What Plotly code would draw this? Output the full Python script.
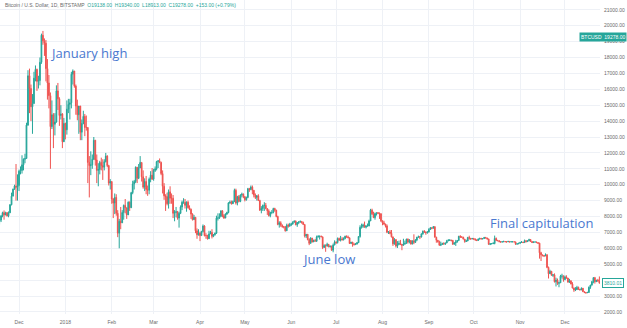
import plotly.graph_objects as go
import pandas as pd

start_date = "2017-11-18"

closes = [
    # Nov 2017 (18-30)
    7780, 8030, 8240, 8100, 8240, 8040, 8230, 8740, 9280, 9720, 9910, 9840, 9950,
    # Dec 2017
    10850, 10900, 11250, 11600, 11650, 13750, 16850, 16050, 14900, 15100, 16700, 17250, 16500, 16550, 17700, 19400,
    19050, 18900, 17300, 16400, 15600, 13650, 14400, 13800, 13950, 15900, 15400, 14350, 14450, 12700, 13850,
    # Jan 2018
    13450, 14750, 15050, 15150, 16950, 17150, 16200, 14950, 14400, 14950, 13300, 13850, 14300, 13600, 13600, 11400,
    11200, 11250, 11600, 12800, 11550, 10900, 10950, 11400, 11200, 11100, 11450, 11800, 11200, 10100, 10200,
    # Feb 2018
    9100, 8850, 9200, 8200, 6950, 7700, 7600, 8250, 8700, 8550, 8100, 8900, 8550, 9500, 10050, 10200,
    11100, 10400, 11050, 11400, 10500, 9850, 10200, 9700, 9650, 10350, 10600, 10350,
    # Mar 2018
    10900, 11000, 11450, 11500, 11400, 10700, 9900, 9300, 9250, 8800, 9550, 9150, 9150, 8200, 8250, 8300,
    7900, 8200, 8600, 8900, 8900, 8700, 8900, 8550, 8450, 8150, 7800, 7950, 7100, 6850, 6950,
    # Apr 2018
    6800, 7050, 7400, 6800, 6800, 6600, 6900, 7000, 6750, 6850, 6950, 7900, 7900, 8000, 8350,
    8050, 7900, 8150, 8250, 8850, 8900, 8800, 8950, 9650, 8850, 9250, 8950, 9350, 9400, 9250,
    # May 2018
    9050, 9200, 9750, 9700, 9850, 9650, 9350, 9200, 9300, 9000, 8400, 8500, 8700, 8700, 8500, 8350,
    8050, 8250, 8250, 8500, 8400, 8000, 7500, 7600, 7450, 7350, 7350, 7100, 7450, 7400, 7500,
    # Jun 2018
    7520, 7640, 7710, 7480, 7620, 7660, 7690, 7620, 7500, 6770, 6880, 6550, 6310, 6640, 6400,
    6490, 6450, 6710, 6740, 6760, 6720, 6050, 6170, 6150, 6250, 6090, 6130, 5880, 6200, 6390,
    # Jul 2018
    6360, 6620, 6510, 6590, 6530, 6610, 6760, 6710, 6660, 6300, 6390, 6250, 6230, 6270, 6350, 6740,
    7320, 7380, 7470, 7330, 7400, 7400, 7720, 8400, 8170, 7930, 8180, 8230, 8210, 8170, 7730,
    # Aug 2018
    7600, 7530, 7410, 7010, 7030, 6940, 6720, 6280, 6540, 6150, 6240, 6310, 6250, 6190, 6270, 6310,
    6580, 6390, 6490, 6270, 6470, 6370, 6520, 6700, 6730, 6710, 6910, 7070, 7030, 6980, 7020,
    # Sep 2018
    7190, 7280, 7260, 7360, 6700, 6510, 6410, 6190, 6240, 6300, 6280, 6330, 6480, 6490, 6520,
    6490, 6250, 6340, 6390, 6490, 6760, 6710, 6700, 6580, 6430, 6460, 6680, 6630, 6600, 6620,
    # Oct 2018
    6590, 6530, 6490, 6580, 6630, 6590, 6610, 6690, 6650, 6590, 6250, 6280, 6290, 6300, 6620, 6500,
    6480, 6420, 6390, 6410, 6420, 6410, 6400, 6430, 6400, 6410, 6410, 6400, 6260, 6280, 6310,
    # Nov 2018
    6370, 6390, 6360, 6480, 6420, 6470, 6550, 6430, 6360, 6400, 6400, 6360, 6320, 5720, 5590,
    5540, 5520, 5600, 4800, 4400, 4550, 4300, 4330, 3900, 4000, 3800, 3830, 4250, 4250, 4030,
    # Dec 2018 (1-24)
    4200, 4130, 3870, 3960, 3750, 3500, 3380, 3400, 3540, 3420, 3380, 3490, 3270, 3220, 3200, 3220,
    3550, 3690, 3900, 4150, 3900, 4000, 3950, 3810.01,
]

highs = [
    7850, 8100, 8300, 8380, 8300, 8280, 8320, 8780, 9500, 9750, 10000, 11300, 10650,
    10950, 11150, 11850, 11650, 11950, 13900, 17200, 17300, 16300, 15700, 17100, 17500, 17300, 16850, 18000, 19500,
    19670, 19200, 19100, 17900, 16900, 15800, 15300, 14500, 14500, 16250, 16400, 15500, 15000, 14500, 14200,
    13900, 15300, 15400, 15400, 17100, 17250, 17150, 16300, 15350, 14950, 14950, 14100, 14650, 14450, 14350, 13600,
    11800, 12100, 11900, 13000, 12800, 11900, 11350, 11500, 11700, 11600, 11600, 12000, 11850, 11250, 10350,
    10200, 9150, 9450, 9400, 8400, 7850, 8600, 8400, 8750, 9100, 8550, 8950, 8950, 9550, 10250, 10300,
    11150, 11100, 11300, 11800, 11250, 10900, 10400, 10550, 9950, 10450, 10850, 11050,
    11000, 11150, 11500, 11550, 11650, 11450, 10900, 10100, 9400, 9500, 9700, 9900, 9450, 9350, 8400, 8600,
    8350, 8300, 8700, 9000, 9150, 9100, 8950, 9000, 8700, 8500, 8200, 8100, 7950, 7250, 7200,
    7050, 7100, 7500, 7450, 6950, 6850, 7100, 7100, 7200, 6900, 6990, 8050, 8200, 8200, 8400,
    8400, 8150, 8200, 8300, 8900, 9000, 9000, 9000, 9750, 9750, 9300, 9350, 9400, 9500, 9450,
    9250, 9250, 9800, 9800, 9950, 9950, 9650, 9450, 9350, 9400, 9050, 8650, 8750, 8900, 8850, 8500,
    8450, 8300, 8400, 8550, 8550, 8420, 8050, 7700, 7700, 7500, 7400, 7400, 7550, 7550, 7600,
    7600, 7700, 7750, 7750, 7650, 7700, 7750, 7700, 7680, 7480, 6900, 6900, 6630, 6700, 6650,
    6550, 6590, 6800, 6830, 6800, 6800, 6730, 6250, 6250, 6350, 6270, 6180, 6170, 6300, 6500,
    6440, 6680, 6670, 6780, 6700, 6690, 6790, 6810, 6800, 6680, 6400, 6400, 6340, 6320, 6400, 6750,
    7450, 7550, 7550, 7680, 7450, 7560, 7800, 8480, 8490, 8300, 8250, 8230, 8280, 8250, 8200,
    7750, 7730, 7540, 7500, 7080, 7150, 7150, 6720, 6640, 6580, 6450, 6480, 6530, 6270, 6600, 6480,
    6600, 6620, 6580, 6520, 6490, 6880, 6580, 6720, 6800, 6760, 6930, 7120, 7140, 7050, 7080,
    7260, 7340, 7330, 7400, 7380, 6720, 6520, 6480, 6420, 6350, 6380, 6350, 6530, 6580, 6570,
    6530, 6530, 6380, 6530, 6520, 6780, 6820, 6760, 6720, 6580, 6540, 6720, 6790, 6640, 6650,
    6650, 6610, 6540, 6620, 6650, 6640, 6630, 6700, 6700, 6660, 6600, 6330, 6320, 6390, 6800, 6680,
    6530, 6500, 6460, 6440, 6480, 6460, 6440, 6470, 6450, 6450, 6430, 6430, 6420, 6320, 6350,
    6400, 6460, 6400, 6550, 6500, 6480, 6600, 6560, 6440, 6420, 6420, 6420, 6360, 6350, 5780,
    5600, 5580, 5680, 5610, 4850, 4650, 4580, 4380, 4420, 4150, 4100, 3900, 4330, 4400, 4300,
    4290, 4300, 4130, 4080, 3970, 3870, 3530, 3560, 3640, 3590, 3440, 3540, 3500, 3290, 3250, 3270,
    3600, 3700, 3950, 4190, 4200, 4010, 4080, 4230,
]

lows = [
    7500, 7650, 7950, 7800, 8080, 8000, 7950, 8230, 8700, 9300, 9680, 9000, 9000,
    9600, 10650, 10700, 10900, 11350, 11650, 13700, 14500, 14000, 13200, 15100, 16500, 15900, 16050, 16250, 17600,
    18800, 18100, 16500, 15350, 14800, 11000, 13500, 12300, 13100, 13900, 14700, 13700, 14100, 12300, 12800,
    12850, 13150, 14500, 14100, 14800, 16300, 16100, 14400, 14050, 13200, 12800, 12800, 13800, 13050, 13400, 10100,
    9200, 10600, 11000, 11550, 11200, 10100, 9900, 10650, 10900, 10300, 10900, 11400, 11100, 9950, 9700,
    8800, 7900, 8150, 8050, 6700, 6000, 7200, 7600, 7800, 8200, 7850, 8100, 8350, 8550, 9400, 9700,
    10100, 10100, 10350, 11050, 10200, 9750, 9600, 9400, 9300, 9400, 10150, 10300,
    10250, 10800, 10900, 11050, 11350, 10600, 9450, 9050, 8350, 8700, 8500, 8800, 8800, 7900, 7700, 7950,
    7800, 7300, 8150, 8400, 8800, 8500, 8300, 8500, 8400, 7850, 7750, 7800, 6950, 6600, 6800,
    6450, 6800, 7000, 6750, 6600, 6550, 6600, 6900, 6620, 6700, 6800, 6900, 7750, 7850, 8000,
    7950, 7850, 7900, 8100, 8200, 8800, 8750, 8800, 8900, 8750, 8700, 8900, 8900, 9200, 9150,
    8950, 9000, 9150, 9550, 9650, 9400, 9200, 9100, 9000, 9000, 8350, 8200, 8350, 8350, 8450, 8100,
    8000, 7950, 8150, 8200, 8300, 7950, 7450, 7300, 7350, 7300, 7250, 7050, 7100, 7300, 7350,
    7400, 7500, 7620, 7450, 7350, 7520, 7600, 7550, 7470, 6680, 6650, 6500, 6200, 6300, 6370,
    6400, 6440, 6400, 6680, 6550, 6700, 5950, 6040, 5780, 6100, 6070, 6050, 5850, 5750, 6200,
    6270, 6300, 6470, 6430, 6500, 6500, 6570, 6680, 6640, 6290, 6290, 6100, 6180, 6220, 6240, 6350,
    6670, 7240, 7280, 7300, 7250, 7390, 7390, 7720, 8100, 7900, 7800, 8060, 8140, 7850, 7650,
    7450, 7480, 7310, 6950, 6900, 6880, 6680, 6150, 6230, 6050, 6020, 6200, 6200, 5880, 6170, 6220,
    6290, 6300, 6310, 6230, 6250, 6260, 6350, 6450, 6670, 6580, 6680, 6850, 6970, 6850, 6920,
    7000, 7150, 7200, 7250, 6680, 6350, 6360, 6170, 6140, 6230, 6220, 6210, 6330, 6440, 6480,
    6430, 6230, 6250, 6150, 6370, 6480, 6650, 6680, 6560, 6350, 6400, 6450, 6540, 6530, 6560,
    6530, 6480, 6450, 6480, 6550, 6560, 6560, 6590, 6620, 6550, 6220, 6200, 6260, 6270, 6250, 6450,
    6440, 6380, 6370, 6380, 6400, 6390, 6370, 6400, 6380, 6390, 6390, 6380, 6210, 6250, 6260,
    6300, 6360, 6330, 6350, 6370, 6400, 6450, 6410, 6340, 6360, 6370, 6330, 6280, 5350, 5200,
    5500, 5450, 5510, 4750, 4100, 4400, 4280, 4200, 3850, 3600, 3700, 3550, 3830, 4100, 3900,
    3990, 4100, 3850, 3820, 3740, 3480, 3260, 3310, 3380, 3380, 3360, 3370, 3260, 3180, 3150, 3190,
    3210, 3450, 3650, 3800, 3780, 3880, 3900, 3780,
]

first_open = 7700

price_ticks = list(range(2000, 22000, 1000))
price_labels = [f"{v}.00" for v in price_ticks]
month_ticks = ["2017-12-01", "2018-01-01", "2018-02-01", "2018-03-01", "2018-04-01", "2018-05-01",
               "2018-06-01", "2018-07-01", "2018-08-01", "2018-09-01", "2018-10-01", "2018-11-01", "2018-12-01"]
month_labels = ["Dec", "2018", "Feb", "Mar", "Apr", "May", "Jun", "Jul", "Aug", "Sep", "Oct", "Nov", "Dec"]

header_title = "Bitcoin / U.S. Dollar, 1D, BITSTAMP"
header_values = "O19138.00  H19340.00  L18913.00  C19278.00  +153.00 (+0.79%)"
last_price_label = "3810.01"
hover_price_label = "BTCUSD  19278.00"

n = len(closes)
assert len(highs) == n and len(lows) == n
dates = pd.date_range(start_date, periods=n, freq="D")
opens = [first_open] + closes[:-1]
hi = [max(h, o, c) for h, o, c in zip(highs, opens, closes)]
lo = [min(l, o, c) for l, o, c in zip(lows, opens, closes)]

UP = "#26a69a"
DOWN = "#ef5350"

fig = go.Figure()
fig.add_trace(go.Candlestick(
    x=dates, open=opens, high=hi, low=lo, close=closes,
    increasing=dict(line=dict(color=UP, width=1), fillcolor=UP),
    decreasing=dict(line=dict(color=DOWN, width=1), fillcolor=DOWN),
    whiskerwidth=0, showlegend=False,
))

grid = "#eef1f6"
fig.update_layout(
    width=627, height=328,
    margin=dict(l=0, r=27, t=0, b=14),
    paper_bgcolor="white", plot_bgcolor="white",
    font=dict(family="Liberation Sans, Arial, sans-serif", size=5, color="#6b6b6b"),
    xaxis=dict(
        type="date",
        range=["2017-11-18 07:00", "2018-12-24 10:00"],
        tickvals=month_ticks, ticktext=month_labels,
        showgrid=True, gridcolor=grid, gridwidth=1,
        rangeslider=dict(visible=False),
        ticks="", tickfont=dict(size=5, color="#6b6b6b"),
        ticklabelstandoff=4,
        showline=False, zeroline=False,
    ),
    yaxis=dict(
        side="right",
        range=[1868, 21616],
        tickvals=price_ticks, ticktext=price_labels,
        showgrid=True, gridcolor=grid, gridwidth=1,
        ticks="", tickfont=dict(size=5, color="#6b6b6b"),
        ticklabelstandoff=3,
        showline=False, zeroline=False,
    ),
)

ann_font = dict(family="Open Sans, sans-serif", size=13, color="#4a78d0")
for label, ax, ay in [("January high", 0.148, 0.831), ("June low", 0.547, 0.175),
                      ("Final capitulation", 0.903, 0.29)]:
    fig.add_annotation(x=ax, y=ay, xref="paper", yref="paper", text=label,
                       xanchor="center", yanchor="middle", showarrow=False, font=ann_font)

# header
fig.add_annotation(x=0.005, y=1.0, xref="paper", yref="paper", xanchor="left", yanchor="top",
                   text=f"<span style='color:#6b6b6b'>{header_title}</span>  "
                        f"<span style='color:{UP}'>{header_values}</span>",
                   showarrow=False, font=dict(size=5))

# price labels on the scale
fig.add_annotation(x=1.0, y=19278, xref="paper", yref="y", xanchor="right", yanchor="middle",
                   text=hover_price_label, showarrow=False, bgcolor=UP,
                   font=dict(size=5, color="white"), borderpad=1, xshift=27)
fig.add_annotation(x=1.0, y=3810.01, xref="paper", yref="y", xanchor="left", yanchor="middle",
                   text=last_price_label, showarrow=False, bgcolor="white", bordercolor=UP,
                   borderwidth=1, font=dict(size=5, color=UP), borderpad=1, xshift=2)

fig.write_html("out.html")
